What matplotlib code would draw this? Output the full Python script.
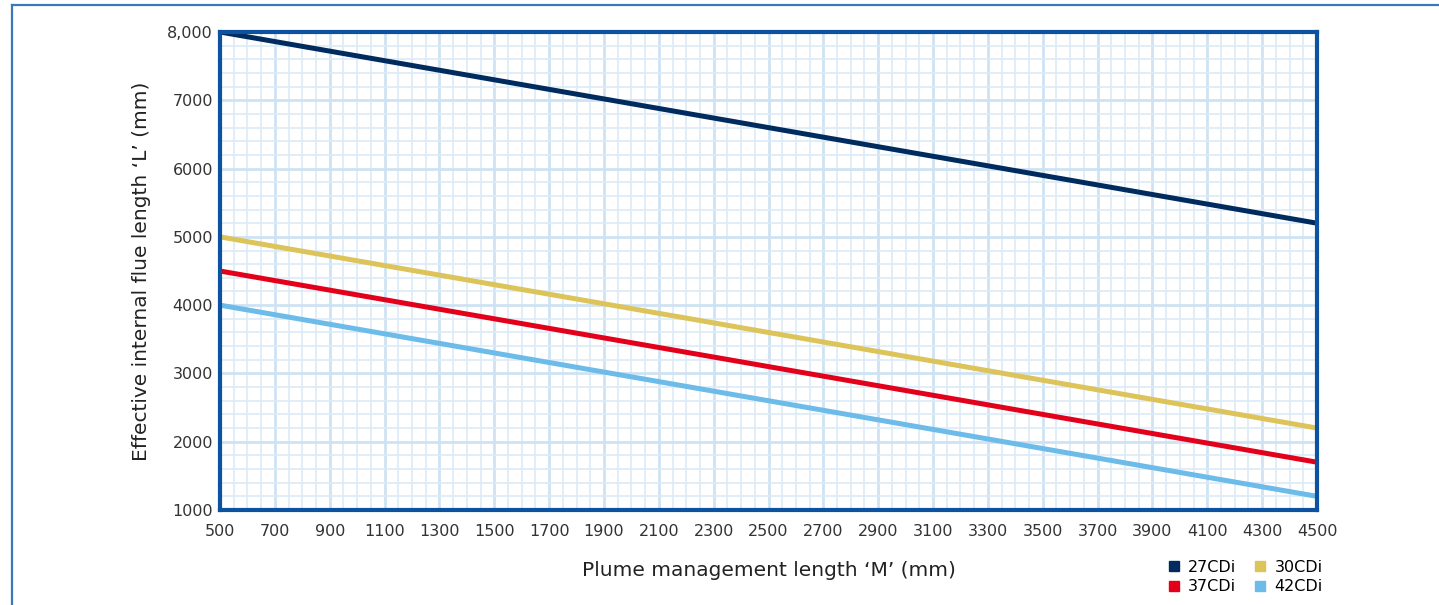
import numpy as np
import matplotlib.pyplot as plt
from matplotlib.lines import Line2D
from matplotlib.ticker import MultipleLocator

# data
plume_mm = [500, 4500]
flue_27cdi = [8000, 5200]
flue_30cdi = [5000, 2200]
flue_37cdi = [4500, 1700]
flue_42cdi = [4000, 1200]
series_names = ["27CDi", "30CDi", "37CDi", "42CDi"]
x_ticks = list(range(500, 4501, 200))
y_ticks = [1000, 2000, 3000, 4000, 5000, 6000, 7000, 8000]
y_tick_labels = ["1000", "2000", "3000", "4000", "5000", "6000", "7000", "8,000"]

colors = ["#002b5e", "#dcc45a", "#e2001a", "#6cbbe8"]
frame_blue = "#0c52a0"

plt.rcParams['font.family'] = ['DejaVu Sans']

fig = plt.figure(figsize=(14.39, 6.05), dpi=100)
ax = fig.add_axes([220 / 1439, 95 / 605, 1097 / 1439, 478 / 605])

# outer page frame lines
fig.add_artist(Line2D([12 / 1439, 1], [1 - 5 / 605, 1 - 5 / 605], color="#3a78bd", lw=1.6))
fig.add_artist(Line2D([12 / 1439, 12 / 1439], [0, 1 - 5 / 605], color="#3a78bd", lw=1.6))

ax.set_xlim(500, 4500)
ax.set_ylim(1000, 8000)

ax.xaxis.set_major_locator(MultipleLocator(200))
ax.xaxis.set_minor_locator(MultipleLocator(50))
ax.yaxis.set_major_locator(MultipleLocator(1000))
ax.yaxis.set_minor_locator(MultipleLocator(200))
ax.grid(which="minor", color="#dcebf7", lw=1.2)
ax.grid(which="major", color="#cfe2f3", lw=2.0)
ax.set_axisbelow(True)

all_series = [flue_27cdi, flue_30cdi, flue_37cdi, flue_42cdi]
for vals, name, c in zip(all_series, series_names, colors):
    ax.plot(plume_mm, vals, color=c, lw=3.6, label=name, solid_capstyle="butt", zorder=3)

ax.set_xticks(x_ticks)
ax.set_xticklabels([str(v) for v in x_ticks])
ax.set_yticks(y_ticks)
ax.set_yticklabels(y_tick_labels)
ax.tick_params(which="both", length=0, labelsize=11.5, labelcolor="#333333")
ax.tick_params(axis="x", pad=10)
ax.tick_params(axis="y", pad=5)

for sp in ax.spines.values():
    sp.set_color(frame_blue)
    sp.set_linewidth(3)
    sp.set_zorder(4)

ax.set_xlabel("Plume management length \u2018M\u2019 (mm)", fontsize=14.5, color="#222222", labelpad=16)
ax.set_ylabel("Effective internal flue length \u2018L\u2019 (mm)", fontsize=14.5, color="#222222", labelpad=12)

# legend fills column-first, so order handles to get 27/30 on top row, 37/42 below
order = [0, 2, 1, 3]
handles = [Line2D([], [], marker="s", linestyle="none", markersize=7.5, color=colors[i]) for i in order]
labels = [series_names[i] for i in order]
fig.legend(handles, labels, ncol=2, loc="center", bbox_to_anchor=(1245 / 1439, 1 - 577 / 605),
           frameon=False, fontsize=11.5, handletextpad=0.5, columnspacing=1.1,
           labelspacing=0.3, handlelength=0.8, borderpad=0)

fig.savefig("out.png", dpi=100)
